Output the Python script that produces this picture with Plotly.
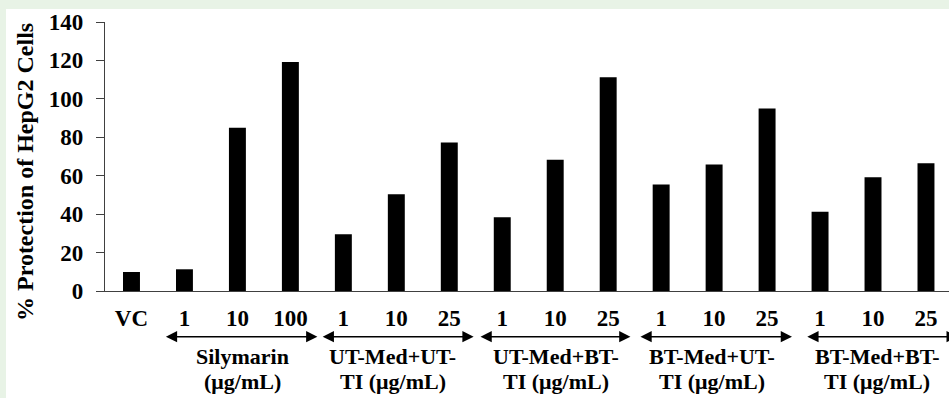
import plotly.graph_objects as go

# ---------------- data ----------------
categories = ["VC", "1", "10", "100", "1", "10", "25", "1", "10", "25",
              "1", "10", "25", "1", "10", "25"]
protection = [9.9, 11.3, 85.0, 119.2, 29.5, 50.4, 77.3, 38.4, 68.3, 111.2,
              55.4, 65.9, 95.0, 41.3, 59.2, 66.5]
group_names = ["Silymarin", "UT-Med+UT-", "UT-Med+BT-", "BT-Med+UT-", "BT-Med+BT-"]
group_units = ["(μg/mL)", "TI (μg/mL)", "TI (μg/mL)", "TI (μg/mL)", "TI (μg/mL)"]
group_members = [[1, 2, 3], [4, 5, 6], [7, 8, 9], [10, 11, 12], [13, 14, 15]]
y_ticks = [0, 20, 40, 60, 80, 100, 120, 140]
y_title = "% Protection of HepG2 Cells"

# ---------------- style ----------------
W, H = 949, 398
L, R, T, B = 105, 0, 22, 107
PW, PH = W - L - R, H - T - B
FONT = "'Liberation Serif', 'Times New Roman', Times, serif"
GREEN = "#e8f3e6"
AXIS = "#404040"

# arrow/label placement offsets (in category units, style only)
arrow_start_off = [-0.36, -0.40, -0.42, -0.40, -0.25]
arrow_end_off = [0.51, 0.46, 0.42, 0.47, 0.60]
label_shift = [0.09, -0.07, 0.02, -0.04, 0.08]


def xp(px):
    return (px - L) / PW


def yp(py):
    return (T + PH - py) / PH


x_idx = list(range(len(categories)))

fig = go.Figure(
    go.Bar(x=x_idx, y=protection, width=0.32, marker=dict(color="black", line=dict(width=0)))
)

annotations = []
# y-axis title
annotations.append(dict(
    text=y_title, textangle=-90, xref="paper", yref="paper",
    x=xp(25), y=yp(172), xanchor="center", yanchor="middle", showarrow=False,
    font=dict(family=FONT, size=24, color="black", weight="bold"),
))

for gi, members in enumerate(group_members):
    start = members[0] + arrow_start_off[gi]
    end = members[-1] + arrow_end_off[gi]
    annotations.append(dict(
        text=" ", font=dict(size=1), borderpad=0,
        x=end, y=yp(336.7), xref="x", yref="paper",
        ax=start, ay=0, axref="x", ayref="pixel",
        showarrow=True, arrowside="end+start", arrowhead=2,
        arrowsize=1.5, arrowwidth=1.5, arrowcolor="black", standoff=0, startstandoff=0,
    ))
    cx = sum(members) / len(members) + label_shift[gi]
    annotations.append(dict(
        text=group_names[gi], x=cx, y=yp(356.5), xref="x", yref="paper",
        xanchor="center", yanchor="middle", showarrow=False,
        font=dict(family=FONT, size=22, color="black", weight="bold"),
    ))
    annotations.append(dict(
        text=group_units[gi], x=cx, y=yp(382), xref="x", yref="paper",
        xanchor="center", yanchor="middle", showarrow=False,
        font=dict(family=FONT, size=22, color="black", weight="bold"),
    ))

shapes = [
    dict(type="rect", xref="paper", yref="paper", x0=xp(0), x1=xp(W), y0=yp(9), y1=yp(0),
         fillcolor=GREEN, line=dict(width=0), layer="below"),
    dict(type="rect", xref="paper", yref="paper", x0=xp(0), x1=xp(6), y0=yp(H), y1=yp(0),
         fillcolor=GREEN, line=dict(width=0), layer="below"),
]

fig.update_layout(
    width=W, height=H,
    margin=dict(l=L, r=R, t=T, b=B, pad=0),
    paper_bgcolor="white", plot_bgcolor="white",
    showlegend=False,
    annotations=annotations,
    shapes=shapes,
    xaxis=dict(
        range=[-0.5, -0.5 + PW / 53.0 + 0.01], tickvals=x_idx, ticktext=categories,
        showgrid=False, zeroline=False, showline=True, linecolor=AXIS, linewidth=1.3,
        ticks="", ticklabelstandoff=6,
        tickfont=dict(family=FONT, size=23, color="black", weight="bold"),
    ),
    yaxis=dict(
        range=[0, 140], tickvals=y_ticks, showgrid=False, zeroline=False,
        showline=True, linecolor=AXIS, linewidth=1.3,
        ticks="outside", ticklen=8, tickcolor=AXIS, tickwidth=1.3,
        ticklabelstandoff=8,
        tickfont=dict(family=FONT, size=23, color="black", weight="bold"),
    ),
)

fig.write_html("out.html")
